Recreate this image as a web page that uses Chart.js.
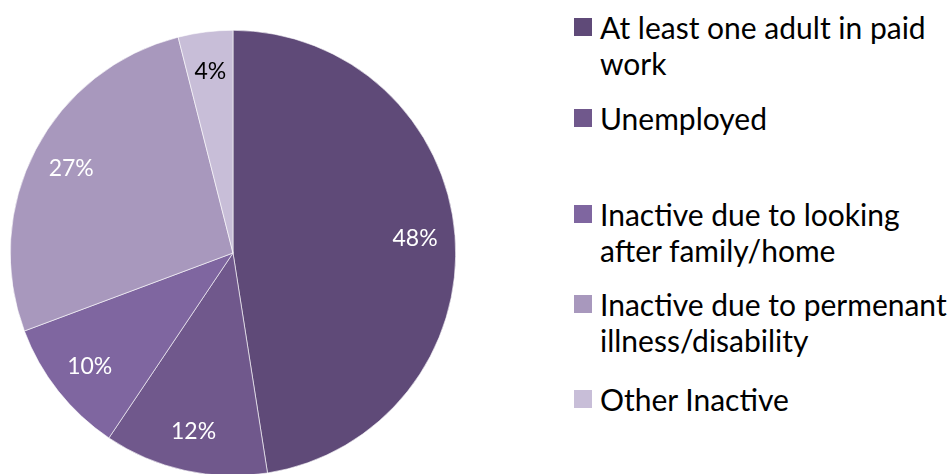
<!DOCTYPE html>
<html>
<head>
<meta charset="utf-8">
<script src="https://cdn.jsdelivr.net/npm/chart.js@4.4.0/dist/chart.umd.min.js"></script>
<style>
  html, body { margin: 0; padding: 0; background: #fff; overflow: hidden; }
  body { width: 948px; height: 474px; position: relative; font-family: Lato, "Open Sans", sans-serif; }
  #wrap { position: absolute; left: 0; top: 30px; width: 466px; height: 446px; }
  #legend { position: absolute; left: 574px; top: 0; width: 374px; }
  .item { position: absolute; left: 0; width: 376px; font-size: 30px; line-height: 36px; color: #000; padding-left: 26px; box-sizing: border-box; }
  .item .box { position: absolute; left: 0; top: 9px; width: 18px; height: 18px; }
</style>
</head>
<body>
<div id="wrap"><canvas id="pie"></canvas></div>
<div id="legend"></div>
<script>
var labels = ["At least one adult in paid work", "Unemployed", "Inactive due to looking after family/home", "Inactive due to permenant illness/disability", "Other Inactive"];
var values = [48, 12, 10, 27, 4];
var colors = ["#5f4a78", "#70588c", "#7f66a0", "#a898bd", "#c8bed8"];
var labelColors = ["#fff", "#fff", "#fff", "#fff", "#000"];

// legend entries, top offsets in px
var legendTops = [9, 100, 196, 286, 381];
var legend = document.getElementById('legend');
labels.forEach(function(l, i) {
  var d = document.createElement('div');
  d.className = 'item';
  d.style.top = legendTops[i] + 'px';
  d.innerHTML = '<span class="box" style="background:' + colors[i] + '"></span>' + l;
  legend.appendChild(d);
});

var sliceLabels = {
  id: 'sliceLabels',
  afterDatasetsDraw: function(chart) {
    var ctx = chart.ctx;
    var meta = chart.getDatasetMeta(0);
    ctx.save();
    ctx.font = '23px Lato, "Open Sans", sans-serif';
    ctx.textAlign = 'center';
    ctx.textBaseline = 'middle';
    meta.data.forEach(function(arc, i) {
      var p = arc.getProps(['x', 'y', 'startAngle', 'endAngle', 'outerRadius']);
      var mid = (p.startAngle + p.endAngle) / 2;
      var r = p.outerRadius * 0.82;
      ctx.fillStyle = labelColors[i];
      ctx.fillText(values[i] + '%', p.x + Math.cos(mid) * r, p.y + Math.sin(mid) * r);
    });
    ctx.restore();
  }
};

new Chart(document.getElementById('pie'), {
  type: 'pie',
  data: {
    labels: labels,
    datasets: [{
      data: values,
      backgroundColor: colors,
      borderColor: "#fff",
      borderWidth: 0.6
    }]
  },
  options: {
    responsive: true,
    maintainAspectRatio: false,
    animation: false,
    layout: { padding: 0 },
    plugins: {
      legend: { display: false },
      tooltip: { enabled: false }
    }
  },
  plugins: [sliceLabels]
});
</script>
</body>
</html>
